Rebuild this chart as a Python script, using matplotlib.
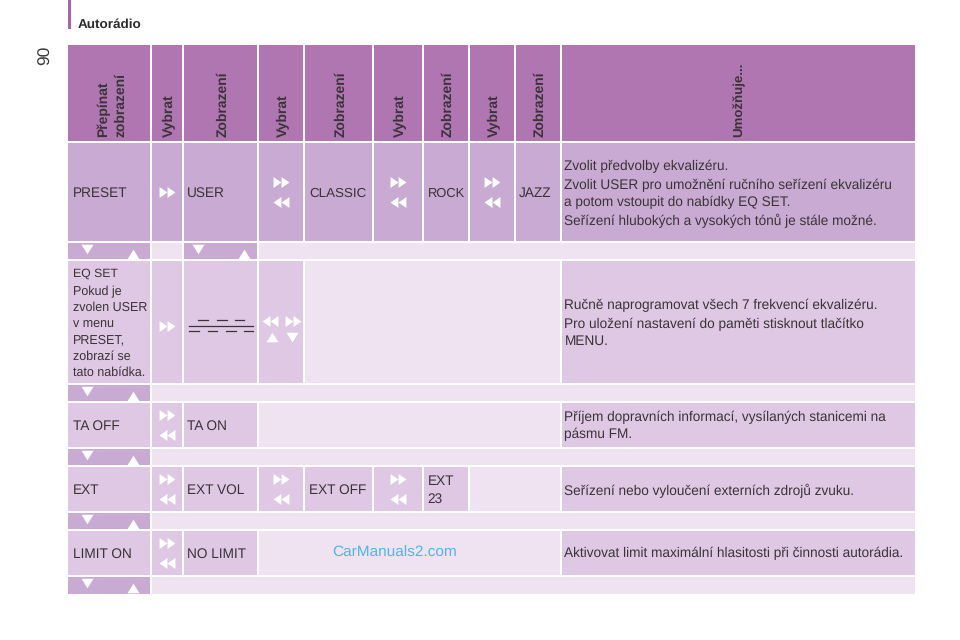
import matplotlib
matplotlib.use("Agg")
import matplotlib.pyplot as plt
from matplotlib.patches import Rectangle

plt.rcParams['font.family'] = ['Liberation Sans', 'DejaVu Sans']
plt.rcParams['text.hinting'] = 'no_hinting'
plt.rcParams['text.hinting_factor'] = 8

HEAD, STRONG, MID, LIGHT, SMALL = '#AF76B1', '#C9AAD2', '#DEC8E3', '#EFE3F1', '#C9AAD2'
TXT = '#3A3338'

col_edges = [(68,150),(152,182),(184,257),(259,303),(305,372),(374,422),(424,468),(470,514),(516,560),(562,915)]
row_edges = [(45,141),(143,241),(243,259),(261,383),(385,401),(403,447),(449,465),(467,511),(513,529),(531,575),(577,594)]

header_labels = ['Přepínat\nzobrazení','Vybrat','Zobrazení','Vybrat','Zobrazení','Vybrat','Zobrazení','Vybrat','Zobrazení','Umožňuje...']

preset_cells = ['PRESET','F','USER','FB','CLASSIC','FB','ROCK','FB','JAZZ']
eq_title = 'EQ SET'
eq_note = ['Pokud je','zvolen USER','v menu','PRESET,','zobrazí se','tato nabídka.']
ta_cells = ['TA OFF','FB','TA ON']
ext_cells = ['EXT','FB','EXT VOL','FB','EXT OFF','FB','EXT\n23']
limit_cells = ['LIMIT ON','FB','NO LIMIT']

desc_preset = ['Zvolit předvolby ekvalizéru.','Zvolit USER pro umožnění ručního seřízení ekvalizéru','a potom vstoupit do nabídky EQ SET.','Seřízení hlubokých a vysokých tónů je stále možné.']
desc_eq = ['Ručně naprogramovat všech 7 frekvencí ekvalizéru.','Pro uložení nastavení do paměti stisknout tlačítko','MENU.']
desc_ta = ['Příjem dopravních informací, vysílaných stanicemi na','pásmu FM.']
desc_ext = ['Seřízení nebo vyloučení externích zdrojů zvuku.']
desc_limit = ['Aktivovat limit maximální hlasitosti při činnosti autorádia.']

fig = plt.figure(figsize=(9.6,6.4), dpi=100, facecolor='white')
ax = fig.add_axes([0,0,1,1])
ax.set_xlim(0,960); ax.set_ylim(640,0); ax.axis('off')

RIGHT = [(-.36,-.5),(.36,0),(-.36,.5)]
LEFT = [(.36,-.5),(-.36,0),(.36,.5)]
UP = [(-.5,-.4),(.5,-.4),(0,.4)]
DOWN = [(-.5,.4),(.5,.4),(0,-.4)]

def cell(c0,c1,r,color):
    x0=col_edges[c0][0]; x1=col_edges[c1][1]; y0,y1=row_edges[r]
    ax.add_patch(Rectangle((x0,y0),x1-x0,y1-y0,facecolor=color,edgecolor='none'))

def cx(c): return sum(col_edges[c])/2
def cy(r): return sum(row_edges[r])/2

def tri(x,y,kind,s=62):
    ax.scatter([x],[y],marker=kind,s=s,c='white',linewidths=0,zorder=5)

def fwd(x,y):
    tri(x-4,y,RIGHT); tri(x+4,y,RIGHT)
def back(x,y):
    tri(x-4,y,LEFT); tri(x+4,y,LEFT)

def label(x,y,s,size=9.8,**kw):
    ax.text(x,y+1.5,s,fontsize=size,color=TXT,ha='left',va='center',linespacing=kw.pop('linespacing',1.15),**kw)

for c,l in enumerate(header_labels):
    cell(c,c,0,HEAD)
    if '\n' in l:
        a,b=l.split('\n')
        ax.text(cx(c)-5.5,137,a,rotation=90,fontsize=10,fontweight='bold',color=TXT,ha='center',va='bottom')
        ax.text(cx(c)+11.5,137,b,rotation=90,fontsize=10,fontweight='bold',color=TXT,ha='center',va='bottom')
    elif c==9:
        ax.text(cx(c)+0.5,137,l,rotation=90,fontsize=9.5,fontweight='bold',color=TXT,ha='center',va='bottom')
    else:
        ax.text(cx(c)+2,137,l,rotation=90,fontsize=10,fontweight='bold',color=TXT,ha='center',va='bottom')

text_pad = {0:5,2:3,4:4,6:3.5,8:3}
tight_sizes = {'ROCK':9.3,'CLASSIC':9.6}

def fill_row(r,items,color,rest=None,last=MID):
    for c,v in enumerate(items):
        cell(c,c,r,color)
        if v=='F':
            fwd(cx(c),cy(r))
        elif v=='FB':
            fwd(cx(c),cy(r)-10); back(cx(c),cy(r)+10)
        else:
            label(col_edges[c][0]+text_pad[c],cy(r),v,size=tight_sizes.get(v,9.8),linespacing=1.5)
    if rest is not None:
        cell(len(items),8,r,rest)
    cell(9,9,r,last)

def nav_row(r,second=False):
    cell(0,0,r,SMALL)
    y0=row_edges[r][0]
    tri(86.5,y0+6,DOWN,75); tri(133,y0+11,UP,75)
    if second:
        cell(1,1,r,LIGHT)
        cell(2,2,r,SMALL)
        tri(197.5,y0+6,DOWN,75); tri(243.5,y0+11,UP,75)
        cell(3,9,r,LIGHT)
    else:
        cell(1,9,r,LIGHT)

def desc(r,lines,ys):
    for s,y in zip(lines,ys):
        label(col_edges[9][0]+2.5,y,s,size=9.85)

fill_row(1,preset_cells,STRONG,last=STRONG)
desc(1,desc_preset,[164.5,184,200.5,219.5])
nav_row(2,second=True)

cell(0,0,3,MID)
label(73,272,eq_title,size=8.8)
for s,y in zip(eq_note,[290,306.5,322.5,338.5,355,371]):
    label(73,y,s,size=9.0)
cell(1,1,3,MID); fwd(cx(1),326)
cell(2,2,3,MID)
for a,b in [(198,208),(217,227),(235,244)]:
    ax.plot([a,b],[320,320],color=TXT,lw=0.9)
ax.plot([189,253],[325.6,325.6],color=TXT,lw=0.9)
for a,b in [(189,199),(208,217),(226,236),(244,253)]:
    ax.plot([a,b],[330.5,330.5],color=TXT,lw=0.9)
cell(3,3,3,MID)
back(269.5,321); fwd(292.5,321); tri(271.5,337,UP,75); tri(292,337,DOWN,75)
cell(4,8,3,LIGHT); cell(9,9,3,MID)
desc(3,desc_eq,[303.5,322.5,340])
nav_row(4)

fill_row(5,ta_cells,MID,rest=LIGHT)
desc(5,desc_ta,[415.5,432.5])
nav_row(6)

fill_row(7,ext_cells,MID,rest=LIGHT)
desc(7,desc_ext,[489])
nav_row(8)

fill_row(9,limit_cells,MID,rest=LIGHT)
desc(9,desc_limit,[552])
nav_row(10)

ax.add_patch(Rectangle((68,0),2.5,28.5,facecolor='#A765B0',edgecolor='none'))
ax.text(78,25,'Autorádio',fontsize=9.7,fontweight='bold',color='#2B2B2B',ha='left',va='center')
ax.text(46,55,'90',rotation=90,fontsize=12.5,color='#3A3A3A',ha='center',va='center')
ax.text(394.5,553,'CarManuals2.com',fontsize=11.05,color='#4DB5EE',ha='center',va='center')

fig.savefig('out.png',dpi=100,facecolor='white')
